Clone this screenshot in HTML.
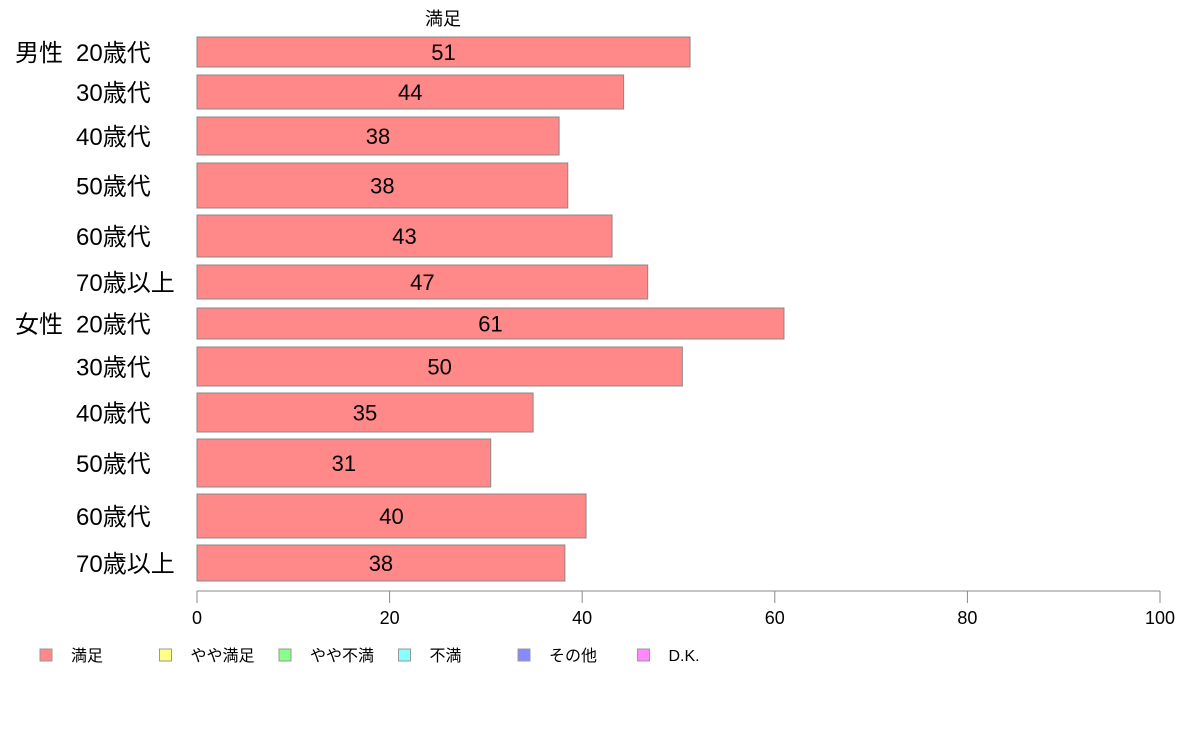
<!DOCTYPE html>
<html><head><meta charset="utf-8"><style>
body{margin:0;background:#fff;}
svg text{font-family:"Liberation Sans","Noto Sans CJK JP",sans-serif;}
</style></head><body>
<svg width="1188" height="736">
<g id="chart"></g>
</svg>
<script>
const categories=["20歳代","30歳代","40歳代","50歳代","60歳代","70歳以上","20歳代","30歳代","40歳代","50歳代","60歳代","70歳以上"];
const groups=["男性","","","","","","女性","","","","",""];
const values=[51.2,44.3,37.6,38.5,43.1,46.8,60.95,50.4,34.9,30.5,40.4,38.2];
const valueLabels=["51","44","38","38","43","47","61","50","35","31","40","38"];
const tickValues=[0,20,40,60,80,100];
const legendLabels=["満足","やや満足","やや不満","不満","その他","D.K."];
const legendColors=["#ff8888","#ffff88","#88ff88","#88ffff","#8888ff","#ff88ff"];
const barTops=[37,75,117,163,215,265,308,347,393,439,494,545];
const barBottoms=[67,109,155,208,257,299,339,386,432,487,538,581];
const NS="http://www.w3.org/2000/svg";
const g=document.getElementById('chart');
const x=v=>197+v*9.63;
function mk(t,a,txt){const e=document.createElementNS(NS,t);for(const k in a)e.setAttribute(k,a[k]);if(txt!==undefined)e.textContent=txt;g.appendChild(e);return e;}
let t=mk('text',{x:443,y:25,'font-size':18,'text-anchor':'middle',fill:'#000'},'満足');


values.forEach((v,i)=>{
  const y0=barTops[i],y1=barBottoms[i];
  const r=mk('rect',{x:x(0),y:y0,width:x(v)-x(0),height:y1-y0,fill:'#ff8888',stroke:'#888','stroke-width':1});
  
  
  const l=mk('text',{x:(x(0)+x(v))/2,y:(y0+y1)/2+8,'font-size':22,'text-anchor':'middle',fill:'#000'},valueLabels[i]);
  
  
  const c=mk('text',{x:76,y:(y0+y1)/2+9,'font-size':24,fill:'#000'},categories[i]);
  
  
  if(groups[i]){
    const gl=mk('text',{x:15,y:(y0+y1)/2+9,'font-size':24,fill:'#000'},groups[i]);
    
    
  }
});
const ax=mk('line',{x1:x(0),x2:x(100),y1:591,y2:591,stroke:'#888','stroke-width':1});


tickValues.forEach(v=>{
  const tk=mk('line',{x1:x(v),x2:x(v),y1:591,y2:603,stroke:'#888','stroke-width':1});
  
  
  const tl=mk('text',{x:x(v),y:624,'font-size':18,'text-anchor':'middle',fill:'#000'},String(v));
  
  
});
legendLabels.forEach((s,i)=>{
  const lx=40+i*119.5;
  const sq=mk('rect',{x:lx,y:649,width:12,height:12,fill:legendColors[i],stroke:'#999','stroke-width':1});
  
  
  const lt=mk('text',{x:lx+31,y:661,'font-size':16,fill:'#000'},s);
  
  
});
</script>
</body></html>
